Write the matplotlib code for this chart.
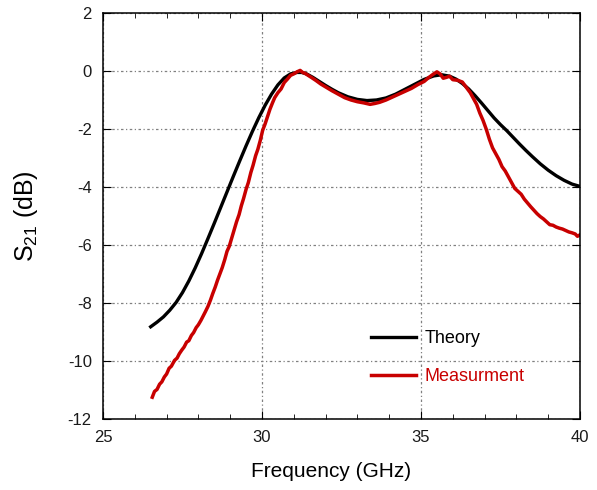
"""
S21 理论值与测量值对比图
"""

import matplotlib
matplotlib.use("Agg")
import matplotlib.pyplot as plt
from matplotlib.ticker import MultipleLocator

# 理论曲线
theory_freq = [26.5, 26.7, 26.9, 27.1, 27.3, 27.5, 27.7, 27.9, 28.1, 28.3, 28.5,
               28.7, 28.9, 29.1, 29.3, 29.5, 29.7, 29.9, 30.1, 30.3, 30.5, 30.7,
               30.9, 31.1, 31.25, 31.4, 31.6, 31.8, 32.0, 32.2, 32.4, 32.7,
               33.0, 33.3, 33.6, 33.9, 34.2, 34.5, 34.8, 35.1, 35.4, 35.65, 35.9,
               36.1, 36.3, 36.5, 36.7, 36.9, 37.1, 37.3, 37.5, 37.7, 37.9, 38.1,
               38.3, 38.5, 38.75, 39.0, 39.25, 39.5, 39.75, 40.0]
theory_s21 = [-8.82, -8.66, -8.48, -8.25, -7.98, -7.64, -7.24, -6.79, -6.3, -5.78, -5.25,
              -4.71, -4.17, -3.63, -3.1, -2.58, -2.08, -1.61, -1.18, -0.8, -0.48, -0.24,
              -0.1, -0.05, -0.05, -0.1, -0.22, -0.36, -0.5, -0.63, -0.75, -0.89,
              -0.98, -1.02, -1.0, -0.93, -0.8, -0.63, -0.46, -0.29, -0.17, -0.13, -0.18,
              -0.28, -0.43, -0.62, -0.85, -1.1, -1.36, -1.62, -1.85, -2.06, -2.29, -2.52,
              -2.74, -2.95, -3.2, -3.42, -3.61, -3.77, -3.9, -3.98]

# 测量曲线
meas_freq = [26.55, 26.62, 26.7, 26.78, 26.85, 26.93, 27.0, 27.08, 27.15, 27.25, 27.33,
             27.4, 27.48, 27.55, 27.63, 27.7, 27.78, 27.85, 27.93, 28.0, 28.08, 28.15,
             28.22, 28.3, 28.38, 28.45, 28.53, 28.6, 28.68, 28.75, 28.83, 28.9, 28.97,
             29.05, 29.12, 29.2, 29.28, 29.35, 29.42, 29.5, 29.57, 29.65, 29.72, 29.8,
             29.87, 29.95, 30.02, 30.1, 30.18, 30.25, 30.33, 30.4, 30.5, 30.6, 30.7,
             30.8, 30.9, 31.0, 31.1, 31.2, 31.28, 31.35, 31.45, 31.55, 31.7, 31.85,
             32.0, 32.2, 32.4, 32.6, 32.8, 33.0, 33.2, 33.4, 33.55, 33.7, 33.9,
             34.1, 34.3, 34.5, 34.7, 34.9, 35.1, 35.25, 35.4, 35.5, 35.6, 35.7,
             35.8, 35.9, 36.0, 36.15, 36.3, 36.45, 36.55, 36.65, 36.75, 36.85, 36.95,
             37.05, 37.15, 37.25, 37.35, 37.45, 37.55, 37.65, 37.75, 37.85, 37.95, 38.05,
             38.15, 38.25, 38.35, 38.45, 38.55, 38.65, 38.75, 38.85, 38.95, 39.05, 39.15,
             39.25, 39.35, 39.45, 39.55, 39.65, 39.75, 39.85, 39.92, 40.0]
meas_s21 = [-11.25, -11.05, -10.98, -10.8, -10.72, -10.55, -10.45, -10.25, -10.18, -9.98, -9.9,
            -9.75, -9.62, -9.52, -9.35, -9.3, -9.12, -9.02, -8.85, -8.75, -8.6, -8.45,
            -8.3, -8.12, -7.9, -7.68, -7.45, -7.22, -6.98, -6.78, -6.5, -6.22, -6.05,
            -5.75, -5.5, -5.2, -4.95, -4.65, -4.4, -4.08, -3.85, -3.5, -3.25, -2.92,
            -2.7, -2.38, -2.05, -1.82, -1.55, -1.32, -1.1, -0.92, -0.75, -0.62, -0.4,
            -0.28, -0.15, -0.1, -0.03, 0.02, -0.05, -0.08, -0.15, -0.22, -0.33, -0.45,
            -0.55, -0.68, -0.8, -0.92, -1.0, -1.06, -1.1, -1.15, -1.12, -1.08, -1.0,
            -0.9, -0.8, -0.7, -0.6, -0.47, -0.36, -0.22, -0.1, -0.03, -0.1, -0.25,
            -0.22, -0.18, -0.3, -0.32, -0.38, -0.6, -0.75, -0.95, -1.15, -1.45, -1.7,
            -2.0, -2.35, -2.65, -2.85, -3.05, -3.3, -3.45, -3.65, -3.85, -4.05, -4.15,
            -4.25, -4.42, -4.55, -4.68, -4.8, -4.92, -5.02, -5.1, -5.2, -5.3, -5.32,
            -5.38, -5.42, -5.45, -5.5, -5.55, -5.58, -5.62, -5.7, -5.65]

plt.rcParams['font.family'] = ['Liberation Sans', 'DejaVu Sans']
plt.rcParams['mathtext.fontset'] = 'custom'
plt.rcParams['mathtext.rm'] = 'Liberation Sans'
plt.rcParams['axes.unicode_minus'] = False

fig = plt.figure(figsize=(5.97, 4.90), dpi=100)
ax = fig.add_axes([0.1725, 0.1449, 0.799, 0.8286])

ax.plot(theory_freq, theory_s21, color='black', lw=2.4, label='Theory')
ax.plot(meas_freq, meas_s21, color='#c80000', lw=2.5, label='Measurment')

ax.set_xlim(25, 40)
ax.set_ylim(-12, 2)
ax.xaxis.set_major_locator(MultipleLocator(5))
ax.xaxis.set_minor_locator(MultipleLocator(1))
ax.yaxis.set_major_locator(MultipleLocator(2))

ax.tick_params(which='both', direction='in', top=True, right=True,
               labelsize=12, labelcolor='#1a1a1a')
ax.tick_params(axis='x', which='major', length=6, pad=8)
ax.tick_params(axis='x', which='minor', length=3.5)
ax.tick_params(axis='y', which='major', length=6, pad=8)

for sp in ax.spines.values():
    sp.set_linewidth(1.1)

# 网格
ax.grid(True, which='major', color='#808080', lw=0.9,
        linestyle=(0, (2, 2, 1, 2)))

ax.set_xlabel('Frequency (GHz)', fontsize=15)
ax.set_ylabel(r'$\mathregular{S_{21}}$ (dB)', fontsize=18)
ax.xaxis.set_label_coords(0.478, -0.105)
ax.yaxis.set_label_coords(-0.132, 0.5)

leg = ax.legend(loc='upper left', bbox_to_anchor=(0.562, 0.218), frameon=False,
                fontsize=13, handlelength=2.5, handletextpad=0.45,
                labelspacing=1.15, borderpad=0, borderaxespad=0)
for text, line in zip(leg.get_texts(), leg.get_lines()):
    text.set_color(line.get_color())

fig.savefig('out.png', dpi=100)
